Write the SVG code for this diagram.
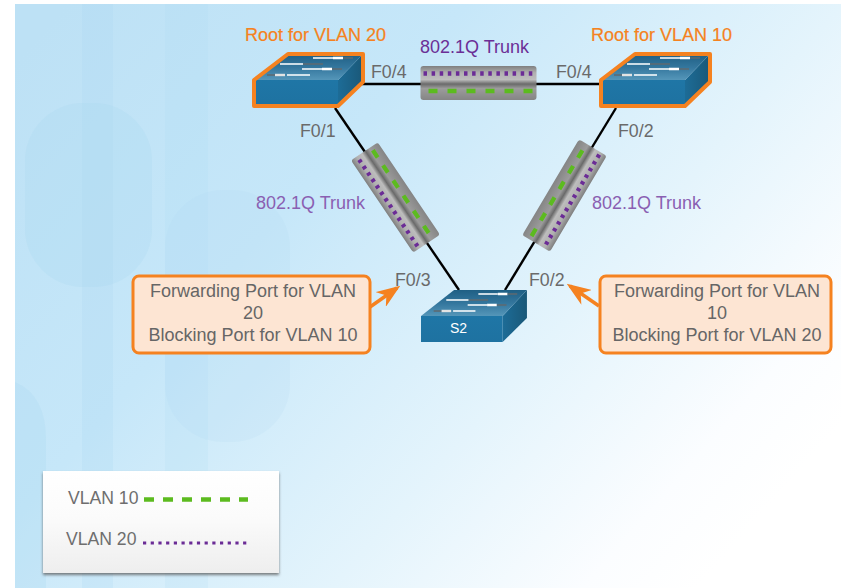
<svg xmlns="http://www.w3.org/2000/svg" xmlns:xlink="http://www.w3.org/1999/xlink" width="841" height="588" viewBox="0 0 841 588">
<defs>
<linearGradient id="bg" x1="0" y1="0.1" x2="1" y2="0.72"><stop offset="0" stop-color="#bde1f5"/><stop offset="0.35" stop-color="#c6e7f9"/><stop offset="0.68" stop-color="#e4f4fc"/><stop offset="0.9" stop-color="#fbfdff"/><stop offset="1" stop-color="#ffffff"/></linearGradient>
<linearGradient id="tube" gradientUnits="userSpaceOnUse" x1="0" y1="-17" x2="0" y2="17"><stop offset="0" stop-color="#7f7f7f"/><stop offset="0.2" stop-color="#b0b0b0"/><stop offset="0.4" stop-color="#bdbdbd"/><stop offset="0.53" stop-color="#6a6a6a"/><stop offset="0.66" stop-color="#9c9c9c"/><stop offset="1" stop-color="#858585"/></linearGradient>
<linearGradient id="front" x1="0" y1="0" x2="0" y2="1"><stop offset="0" stop-color="#1f76a6"/><stop offset="1" stop-color="#1e72a1"/></linearGradient>
<linearGradient id="side" x1="0" y1="0" x2="1" y2="0"><stop offset="0" stop-color="#1d6c97"/><stop offset="1" stop-color="#1a5878"/></linearGradient>
<linearGradient id="top" x1="0" y1="1" x2="0" y2="0"><stop offset="0" stop-color="#5596b9"/><stop offset="0.5" stop-color="#33769d"/><stop offset="1" stop-color="#1f5f84"/></linearGradient>
<linearGradient id="legend" x1="0" y1="0" x2="0" y2="1"><stop offset="0" stop-color="#fff"/><stop offset="0.45" stop-color="#fbfbfb"/><stop offset="1" stop-color="#eeeeee"/></linearGradient>
<filter id="sh" x="-5%" y="-5%" width="110%" height="115%"><feDropShadow dx="0" dy="2" stdDeviation="1.5" flood-color="#555" flood-opacity="0.75"/></filter>
<marker id="head" markerUnits="userSpaceOnUse" viewBox="0 0 24 18" refX="20" refY="9" markerWidth="24" markerHeight="18" orient="auto"><path d="M24 9L0 0L7 9L0 18Z" fill="#f58220"/></marker>
<g id="sw">
<path d="M0 26L84 26V52H0Z" fill="url(#front)"/>
<path d="M84 26L109 0V28L84 52Z" fill="url(#side)"/>
<path d="M0 26L34 0H109L84 26Z" fill="url(#top)"/>
<g fill="none" stroke-width="1.4">
<path stroke="#fff" d="M59 4H79M26 10H49M48 15H68M33 21H56"/>
<path stroke="#fff" stroke-width="2.6" d="M79 4H89M68 15H78"/>
<path stroke="#e3e3e3" stroke-width="2.4" d="M21 21H31"/>
<path stroke="#5f6a70" d="M89 4H99M49 10H69M78 15H88M13 21H21"/>
</g>
</g>
<g id="tun">
<rect x="-58" y="-17" width="116" height="34" rx="3" fill="url(#tube)"/>
<line x1="-55" x2="56" y1="-9.5" y2="-9.5" stroke="#6b2c96" stroke-width="4.5" stroke-dasharray="3.5 4.6"/>
<line x1="-50" x2="56" y1="8" y2="8" stroke="#5cbb1f" stroke-width="4.5" stroke-dasharray="9 10"/>
</g>
</defs>
<style>
text{font-family:"Liberation Sans",Arial,sans-serif}
.port{font-size:17.8px;fill:#6a6a6a}
.root{font-size:18px;fill:#f58220;stroke:#f58220;stroke-width:.2px}
.tr{font-size:18px;fill:#8a5fb2}
.trd{font-size:18px;fill:#6b2f96}
.call{font-size:18px;fill:#666;text-anchor:middle}
.box{fill:#fde5d3;stroke:#f58220;stroke-width:3}
.ring{fill:none;stroke:#f58220;stroke-width:4;stroke-linejoin:round}
.leg{font-size:17.6px;fill:#6e6e6e}
.link{stroke:#000;stroke-width:2.4;fill:none}
.arr{stroke:#f58220;stroke-width:3.5;fill:none;marker-end:url(#head)}
</style>
<rect width="841" height="588" fill="#fff"/>
<g id="background">
<rect x="15" y="4" width="826" height="584" fill="url(#bg)"/>
<rect x="82" y="4" width="31" height="584" fill="#a9d7f1" opacity=".22"/>
<rect x="165" y="4" width="43" height="584" fill="#a9d7f1" opacity=".16"/>
<rect x="25" y="103" width="127" height="184" rx="58" fill="#a9d7f1" opacity=".25"/>
<rect x="165" y="190" width="125" height="252" rx="58" fill="#a9d7f1" opacity=".14"/>
<path d="M15 382Q46 395 46 440V588H15Z" fill="#a9d7f1" opacity=".25"/>
</g>
<g id="connectors">
<path class="link" d="M362 84H602"/>
<path class="link" d="M335 108L459 290"/>
<path class="link" d="M616 108L505 290"/>
<path class="arr" d="M370 307L397 288"/>
<path class="arr" d="M599 306L570 286"/>
</g>
<g id="trunk-top"><use xlink:href="#tun" href="#tun" transform="translate(478.5 83)"/><text class="trd" x="420" y="53">802.1Q Trunk</text></g>
<g id="trunk-left"><use xlink:href="#tun" href="#tun" transform="translate(395.5 197.5) rotate(236) scale(.96 .95)"/><text class="tr" x="256" y="209">802.1Q Trunk</text></g>
<g id="trunk-right"><use xlink:href="#tun" href="#tun" transform="translate(564.5 195.5) rotate(120.7) scale(.96 .95)"/><text class="tr" x="592" y="209">802.1Q Trunk</text></g>
<g id="switch-left"><use xlink:href="#sw" href="#sw" transform="translate(254 54)"/><path class="ring" d="M254 80L288 54H363V82L338 106H254Z"/><text class="root" x="245" y="41">Root for VLAN 20</text></g>
<g id="switch-right"><use xlink:href="#sw" href="#sw" transform="translate(601 54)"/><path class="ring" d="M601 80L635 54H710V82L685 106H601Z"/><text class="root" x="591" y="41">Root for VLAN 10</text></g>
<g id="switch-s2"><use xlink:href="#sw" href="#sw" transform="translate(421 290) scale(.972 1)"/><text x="450" y="333" font-size="14" fill="#fff">S2</text></g>
<g id="ports">
<text class="port" x="371" y="78">F0/4</text>
<text class="port" x="556" y="78">F0/4</text>
<text class="port" x="300" y="137">F0/1</text>
<text class="port" x="618" y="137">F0/2</text>
<text class="port" x="395" y="286">F0/3</text>
<text class="port" x="529" y="286">F0/2</text>
</g>
<g id="callout-left"><rect class="box" x="133" y="276" width="237" height="77" rx="6"/>
<text class="call" x="253" y="297">Forwarding Port for VLAN</text><text class="call" x="253" y="319">20</text><text class="call" x="253" y="341">Blocking Port for VLAN 10</text></g>
<g id="callout-right"><rect class="box" x="600" y="276" width="231" height="77" rx="6"/>
<text class="call" x="717" y="297">Forwarding Port for VLAN</text><text class="call" x="717" y="319">10</text><text class="call" x="717" y="341">Blocking Port for VLAN 20</text></g>
<g id="legend-box"><rect x="43" y="471" width="236" height="102" fill="url(#legend)" filter="url(#sh)"/>
<text class="leg" x="68" y="504">VLAN 10</text><text class="leg" x="66" y="545">VLAN 20</text>
<line x1="144" x2="248" y1="499.5" y2="499.5" stroke="#5cbb1f" stroke-width="4.5" stroke-dasharray="10 9"/>
<line x1="143" x2="250" y1="543" y2="543" stroke="#6b2c96" stroke-width="3" stroke-dasharray="3.2 4.5"/>
</g>
</svg>
